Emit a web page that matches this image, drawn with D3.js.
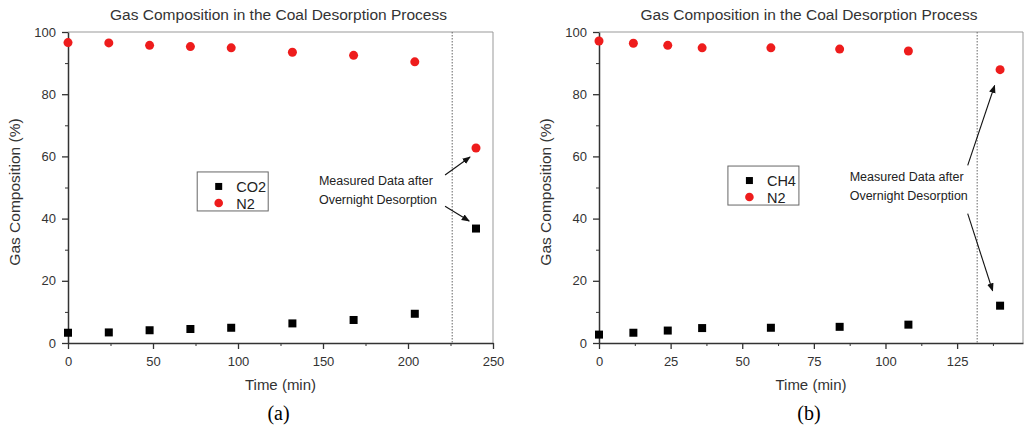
<!DOCTYPE html>
<html>
<head>
<meta charset="utf-8">
<script src="https://cdn.jsdelivr.net/npm/d3@7"></script>
<style>
  body { margin: 0; background: #fff; }
  svg text { font-family: "Liberation Sans", Arial, sans-serif; }
</style>
</head>
<body>
<div id="chart"></div>
<script>
// data
const timeA = [0, 24, 48, 72, 96, 132, 168, 204, 240];
const co2A = [3.3, 3.4, 4.1, 4.5, 4.9, 6.3, 7.4, 9.4, 36.8];
const n2A = [96.6, 96.5, 95.7, 95.3, 94.9, 93.5, 92.5, 90.4, 62.7];

const timeB = [0, 12, 24, 36, 60, 84, 108, 140];
const ch4B = [2.7, 3.3, 4.0, 4.8, 4.9, 5.2, 5.9, 12.0];
const n2B = [97.1, 96.4, 95.7, 94.9, 94.9, 94.5, 93.9, 87.9];

const yTicks = [0, 20, 40, 60, 80, 100];
const xTicksA = [0, 50, 100, 150, 200, 250];
const xTicksB = [0, 25, 50, 75, 100, 125];

const titleText = "Gas Composition in the Coal Desorption Process";
const noteLines = ["Measured Data after", "Overnight Desorption"];

var width = 1027, height = 430;
var svg = d3.select("#chart").append("svg")
  .attr("width", width)
  .attr("height", height);

svg.append("defs").append("marker")
  .attr("id", "head")
  .attr("viewBox", "0 0 10 10")
  .attr("refX", 9).attr("refY", 5)
  .attr("markerWidth", 7.5).attr("markerHeight", 7.5)
  .attr("orient", "auto")
  .append("path")
  .attr("d", "M0,1 L10,5 L0,9 Z")
  .attr("fill", "#111");

function drawPanel(p) {
  var x = d3.scaleLinear().domain(p.xDomain).range([p.left, p.right]);
  var y = d3.scaleLinear().domain([0, 100]).range([343, 32]);
  var g = svg.append("g");

  // frame top/right (light)
  g.append("line").attr("x1", p.left).attr("x2", p.right).attr("y1", y(100)).attr("y2", y(100))
    .attr("stroke", "#999").attr("stroke-width", 1);
  g.append("line").attr("x1", p.right).attr("x2", p.right).attr("y1", y(100)).attr("y2", y(0))
    .attr("stroke", "#999").attr("stroke-width", 1);

  // minor ticks
  var yMinor = d3.range(10, 100, 20);
  g.append("g").attr("transform", "translate(" + p.left + ",0)")
    .call(d3.axisLeft(y).tickValues(yMinor).tickSize(3).tickFormat(""))
    .call(a => a.select(".domain").remove())
    .selectAll("line").attr("stroke", "#333");
  g.append("g").attr("transform", "translate(0," + y(0) + ")")
    .call(d3.axisBottom(x).tickValues(p.xMinor).tickSize(3).tickFormat(""))
    .call(a => a.select(".domain").remove())
    .selectAll("line").attr("stroke", "#333");

  // main axes
  var ya = g.append("g").attr("transform", "translate(" + p.left + ",0)")
    .call(d3.axisLeft(y).tickValues(yTicks).tickSize(6).tickSizeOuter(0).tickPadding(6));
  var xa = g.append("g").attr("transform", "translate(0," + y(0) + ")")
    .call(d3.axisBottom(x).tickValues(p.xTicks).tickSize(6).tickSizeOuter(0).tickPadding(8));
  [ya, xa].forEach(a => {
    a.select(".domain").attr("stroke", "#333").attr("stroke-width", 1.5);
    a.selectAll("line").attr("stroke", "#333").attr("stroke-width", 1.3);
    a.selectAll("text").attr("fill", "#333").style("font-size", "13px")
      .style("font-family", "Liberation Sans, Arial, sans-serif");
  });

  // dashed divider
  g.append("line").attr("x1", x(p.cut)).attr("x2", x(p.cut)).attr("y1", y(100)).attr("y2", y(0))
    .attr("stroke", "#666").attr("stroke-width", 1).attr("stroke-dasharray", "1.5,1.5");

  // titles
  g.append("text").attr("x", (p.left + p.right) / 2 - 2).attr("y", 20)
    .attr("text-anchor", "middle").attr("fill", "#333").style("font-size", "15.5px")
    .text(titleText);
  g.append("text").attr("x", (p.left + p.right) / 2).attr("y", 390)
    .attr("text-anchor", "middle").attr("fill", "#333").style("font-size", "15px")
    .text("Time (min)");
  g.append("text").attr("transform", "translate(" + (p.left - 48) + "," + 192 + ") rotate(-90)")
    .attr("text-anchor", "middle").attr("fill", "#333").style("font-size", "15.5px")
    .text("Gas Composition (%)");
  g.append("text").attr("x", (p.left + p.right) / 2 - 2).attr("y", 420)
    .attr("text-anchor", "middle").attr("fill", "#000")
    .style("font-family", "Liberation Serif, Times New Roman, serif").style("font-size", "20px")
    .text(p.caption);

  // points
  var n2Data = p.time.map((t, i) => ({ t: t, v: p.n2[i] }));
  var otherData = p.time.map((t, i) => ({ t: t, v: p.other[i] }));
  g.selectAll(".n2").data(n2Data).enter().append("circle")
    .attr("cx", d => x(d.t)).attr("cy", d => y(d.v)).attr("r", 4.5)
    .attr("fill", "#ee1c1c");
  g.selectAll(".oth").data(otherData).enter().append("rect")
    .attr("x", d => x(d.t) - 4).attr("y", d => y(d.v) - 4)
    .attr("width", 8).attr("height", 8).attr("fill", "#000");

  // legend
  var lx = x(p.legend[0]), ly = y(p.legend[1]);
  var lg = g.append("g").attr("transform", "translate(" + lx + "," + ly + ")");
  lg.append("rect").attr("width", 71).attr("height", 39)
    .attr("fill", "#fff").attr("stroke", "#666").attr("stroke-width", 1);
  lg.append("rect").attr("x", 18).attr("y", 11).attr("width", 7).attr("height", 7).attr("fill", "#000");
  lg.append("circle").attr("cx", 21.5).attr("cy", 31).attr("r", 4.3).attr("fill", "#ee1c1c");
  lg.append("text").attr("x", 39).attr("y", 20).attr("fill", "#222").style("font-size", "14.5px").text(p.otherName);
  lg.append("text").attr("x", 39).attr("y", 37).attr("fill", "#222").style("font-size", "14.5px").text("N2");

  // annotation
  noteLines.forEach((s, i) => {
    g.append("text").attr("x", x(p.note[0])).attr("y", y(p.note[1]) + i * 19)
      .attr("fill", "#222").style("font-size", "12.5px").text(s);
  });
  p.arrows.forEach(a => {
    g.append("line")
      .attr("x1", x(a[0])).attr("y1", y(a[1]))
      .attr("x2", x(a[2])).attr("y2", y(a[3]))
      .attr("stroke", "#111").attr("stroke-width", 1.1)
      .attr("marker-end", "url(#head)");
  });
}

drawPanel({
  left: 68, right: 493, xDomain: [0, 250],
  xTicks: xTicksA, xMinor: d3.range(25, 250, 50), cut: 226,
  time: timeA, n2: n2A, other: co2A, otherName: "CO2",
  legend: [76, 55], note: [147.6, 50.8],
  arrows: [[221.8, 54, 236.5, 59.8], [221.8, 44, 236, 39.2]],
  caption: "(a)"
});

drawPanel({
  left: 599, right: 1023, xDomain: [0, 148],
  xTicks: xTicksB, xMinor: [12.5, 37.5, 62.5, 87.5, 112.5, 137.5], cut: 132,
  time: timeB, n2: n2B, other: ch4B, otherName: "CH4",
  legend: [45, 56.9], note: [87.5, 52.2],
  arrows: [[128.7, 57.1, 138.1, 82.8], [128.7, 41.6, 137.4, 16.8]],
  caption: "(b)"
});
</script>
</body>
</html>
